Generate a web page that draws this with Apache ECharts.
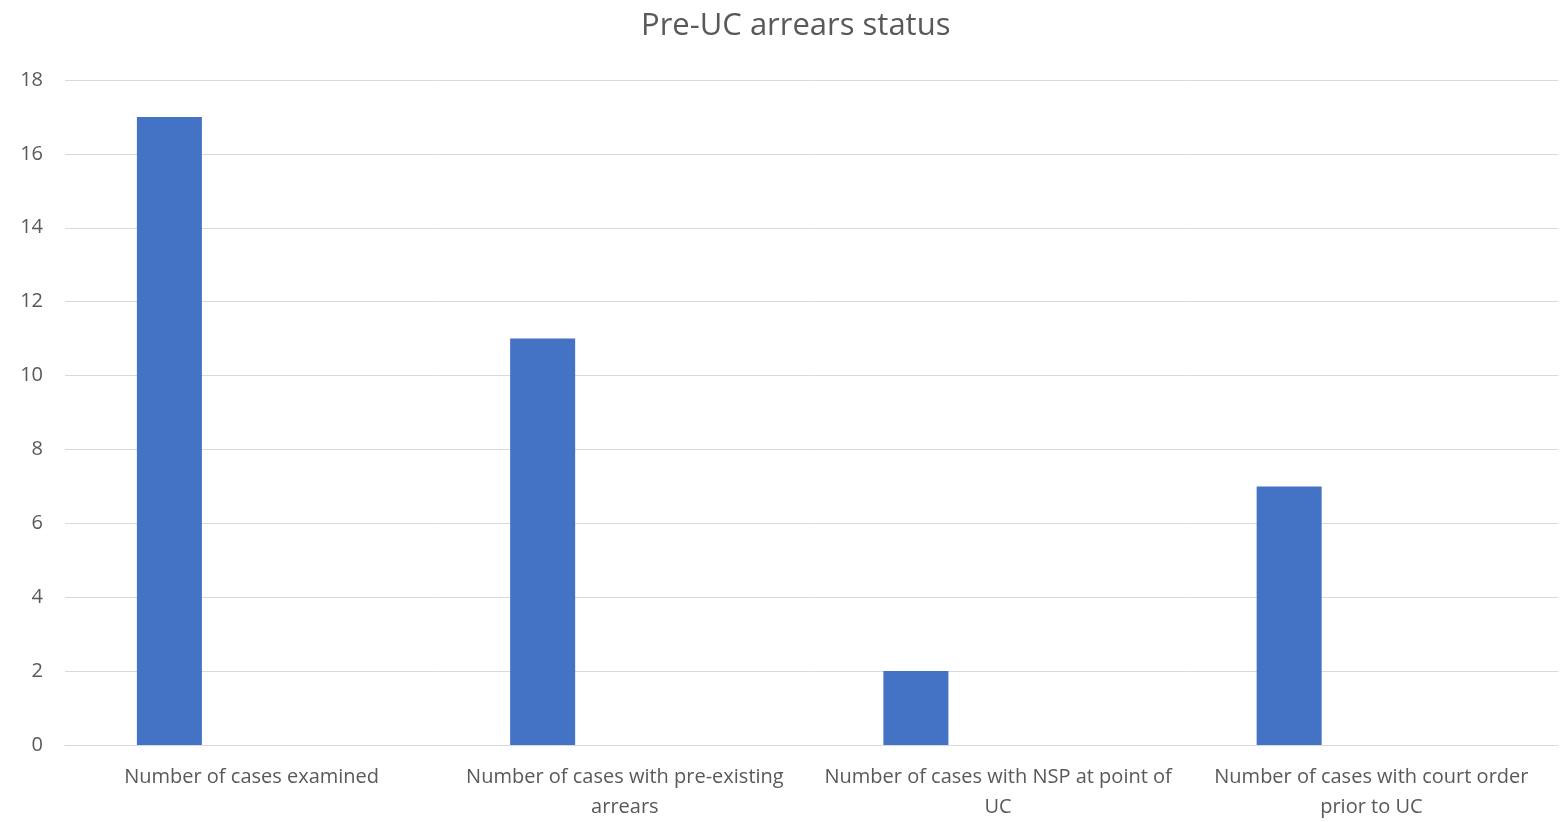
<!DOCTYPE html>
<html>
<head>
<meta charset="utf-8">
<script src="https://cdn.jsdelivr.net/npm/echarts@6/dist/echarts.min.js"></script>
<style>
  html, body { margin: 0; padding: 0; background: #fff; }
  #chart { width: 1562px; height: 822px; }
</style>
</head>
<body>
<div id="chart"></div>
<script>
// chart data
const categories = [
  'Number of cases examined',
  'Number of cases with pre-existing\narrears',
  'Number of cases with NSP at point of\nUC',
  'Number of cases with court order\nprior to UC'
];
const caseCounts = [17, 11, 2, 7];
// second (empty) series in the original workbook, keeps bars off-centre
const emptySeries = [null, null, null, null];

const font = '"Open Sans", "Noto Sans", sans-serif';
const textColor = '#595959';

const chart = echarts.init(document.getElementById('chart'));
chart.setOption({
  animation: false,
  title: {
    text: 'Pre-UC arrears status',
    left: 636,
    top: 6,
    textStyle: { fontFamily: font, fontSize: 31, fontWeight: 'normal', color: textColor }
  },
  grid: { left: 65, right: 4, top: 80, bottom: 76 },
  xAxis: {
    type: 'category',
    data: categories,
    axisTick: { show: false },
    axisLine: { lineStyle: { color: '#d9d9d9', width: 1 } },
    axisLabel: {
      fontFamily: font,
      fontSize: 20,
      color: textColor,
      margin: 17,
      lineHeight: 30,
      interval: 0
    }
  },
  yAxis: {
    type: 'value',
    min: 0,
    max: 18,
    interval: 2,
    axisLine: { show: false },
    axisTick: { show: false },
    splitLine: { lineStyle: { color: '#d9d9d9', width: 1 } },
    axisLabel: { fontFamily: font, fontSize: 20, color: textColor, margin: 22 }
  },
  series: [
    {
      type: 'bar',
      data: caseCounts,
      barWidth: 65,
      barGap: '153%',
      itemStyle: { color: '#4472C4' }
    },
    {
      type: 'bar',
      data: emptySeries,
      barWidth: 65,
      itemStyle: { color: '#ED7D31' }
    }
  ]
});
</script>
</body>
</html>
